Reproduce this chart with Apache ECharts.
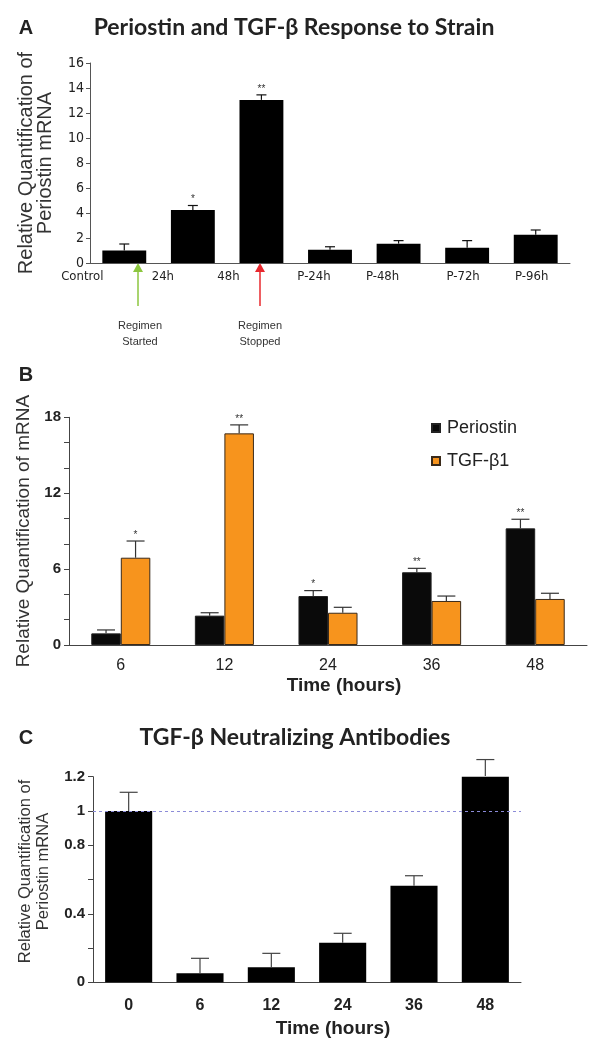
<!DOCTYPE html>
<html><head><meta charset="utf-8">
<script src="https://cdn.jsdelivr.net/npm/echarts@6/dist/echarts.min.js"></script>
<style>html,body{margin:0;padding:0;background:#fff}#c{width:600px;height:1053px}</style>
</head><body><div id="c"></div>
<script>
// ---------- Panel A data ----------
const catA = ['Control', '24h', '48h', 'P-24h', 'P-48h', 'P-72h', 'P-96h'];
const valA = [1.0, 4.25, 13.05, 1.07, 1.55, 1.23, 2.27];
const errA = [1.52, 4.6, 13.45, 1.3, 1.79, 1.79, 2.64];
const starA = ['', '*', '**', '', '', '', ''];

// ---------- Panel B data ----------
const catB = ['6', '12', '24', '36', '48'];
const periostinB = [0.92, 2.32, 3.87, 5.75, 9.22];
const periostinErrB = [1.19, 2.55, 4.3, 6.06, 9.94];
const periostinStarB = ['', '', '*', '**', '**'];
const tgfB = [6.9, 16.73, 2.55, 3.48, 3.64];
const tgfErrB = [8.22, 17.4, 2.98, 3.87, 4.09];
const tgfStarB = ['*', '**', '', '', ''];
const yLabelsB = [0, 6, 12, 18];

// ---------- Panel C data ----------
const catC = ['0', '6', '12', '24', '36', '48'];
const valC = [1.0, 0.053, 0.088, 0.231, 0.564, 1.204];
const errC = [1.109, 0.14, 0.169, 0.286, 0.622, 1.30];
const yLabelsC = ['0', '0.4', '0.8', '1', '1.2'];
const refLineC = 1;

const AR = 'Liberation Sans, Arial, sans-serif';
const NAR = 'Liberation Sans Narrow, Arial Narrow, DejaVu Sans Condensed, sans-serif';

function errSeries(xi, yi, vals, errs, stars, offsetFrac, capW, color) {
  return {
    type: 'custom', xAxisIndex: xi, yAxisIndex: yi, z: 5, silent: true,
    data: vals.map((v, i) => [i, v, errs[i]]),
    renderItem(params, api) {
      const i = api.value(0);
      const band = api.size([1, 0])[0];
      const base = api.coord([i, api.value(1)]);
      const top = api.coord([i, api.value(2)]);
      const x = base[0] + offsetFrac * band;
      const st = stars[params.dataIndex];
      const children = [
        {type: 'line', shape: {x1: x, y1: base[1], x2: x, y2: top[1]}, style: {stroke: color, lineWidth: 1.2}},
        {type: 'line', shape: {x1: x - capW / 2, y1: top[1], x2: x + capW / 2, y2: top[1]}, style: {stroke: color, lineWidth: 1.2}}
      ];
      if (st) children.push({type: 'text', style: {text: st, x: x, y: top[1] - 1, align: 'center', verticalAlign: 'bottom', font: '10px Liberation Sans', fill: '#333'}});
      return {type: 'group', children};
    }
  };
}

const shiftA = [84, 60, 66, 32, 32, 8, 8];
const richA = {};
shiftA.forEach((p, i) => { richA['s' + i] = {padding: [0, p, 0, 0], fontFamily: NAR, fontSize: 13, color: '#222'}; });

function arrow(x, color) {
  return {type: 'group', children: [
    {type: 'line', shape: {x1: x, y1: 306, x2: x, y2: 270}, style: {stroke: color, lineWidth: 1.5}},
    {type: 'polygon', shape: {points: [[x - 5, 272], [x + 5, 272], [x, 263]]}, style: {fill: color}}
  ]};
}

const chart = echarts.init(document.getElementById('c'));
chart.setOption({
  animation: false,
  backgroundColor: '#fff',
  grid: [
    {left: 90, right: 30, top: 63, height: 200},
    {left: 69, right: 13, top: 417.3, height: 227.7},
    {left: 93, right: 79, top: 776.7, height: 205.6}
  ],
  legend: {
    data: ['Periostin', 'TGF-β1'], orient: 'vertical', left: 426, top: 414,
    itemWidth: 8, itemHeight: 8, itemGap: 15, icon: 'rect',
    textStyle: {fontSize: 18, fontFamily: AR, color: '#222', padding: [0, 0, 0, 2]}
  },
  xAxis: [
    {gridIndex: 0, type: 'category', data: catA,
      axisLine: {lineStyle: {color: '#555', width: 1}}, axisTick: {show: false},
      axisLabel: {margin: 7, interval: 0, formatter: (v, i) => '{s' + i + '|' + v + '}', rich: richA}},
    {gridIndex: 1, type: 'category', data: catB,
      axisLine: {lineStyle: {color: '#444', width: 1}}, axisTick: {length: 5, lineStyle: {color: '#444'}},
      axisLabel: {margin: 13, fontSize: 16, fontFamily: AR, color: '#222'},
      name: 'Time (hours)', nameLocation: 'middle', nameGap: 31,
      nameTextStyle: {fontSize: 19, fontWeight: 'bold', fontFamily: AR, color: '#222', padding: [0, 0, 0, 32]}},
    {gridIndex: 2, type: 'category', data: catC,
      axisLine: {lineStyle: {color: '#444', width: 1}}, axisTick: {length: 5, lineStyle: {color: '#444'}},
      axisLabel: {margin: 15, fontSize: 16, fontWeight: 'bold', fontFamily: AR, color: '#222'},
      name: 'Time (hours)', nameLocation: 'middle', nameGap: 37,
      nameTextStyle: {fontSize: 19, fontWeight: 'bold', fontFamily: AR, color: '#222', padding: [0, 0, 0, 52]}}
  ],
  yAxis: [
    {gridIndex: 0, type: 'value', min: 0, max: 16, interval: 2,
      axisLine: {show: true, lineStyle: {color: '#555'}}, axisTick: {show: true, length: 4, lineStyle: {color: '#555'}},
      splitLine: {show: false},
      axisLabel: {margin: 6, fontSize: 14, fontFamily: NAR, color: '#222'},
      name: 'Relative Quantification of\nPeriostin mRNA', nameLocation: 'middle', nameGap: 35,
      nameTextStyle: {fontSize: 20, lineHeight: 19, fontFamily: AR, color: '#333'}},
    {gridIndex: 1, type: 'value', min: 0, max: 18, interval: 2,
      axisLine: {show: true, lineStyle: {color: '#444'}}, axisTick: {show: true, length: 5, lineStyle: {color: '#444'}},
      splitLine: {show: false},
      axisLabel: {margin: 8, fontSize: 15, fontWeight: 'bold', fontFamily: AR, color: '#222',
        formatter: v => yLabelsB.includes(Math.round(v)) && Math.abs(v - Math.round(v)) < 1e-6 ? String(Math.round(v)) : ''},
      name: 'Relative Quantification of mRNA', nameLocation: 'middle', nameGap: 32,
      nameTextStyle: {fontSize: 19, fontFamily: AR, color: '#333'}},
    {gridIndex: 2, type: 'value', min: 0, max: 1.2, interval: 0.2,
      axisLine: {show: true, lineStyle: {color: '#444'}}, axisTick: {show: true, length: 5, lineStyle: {color: '#444'}},
      splitLine: {show: false},
      axisLabel: {margin: 8, fontSize: 15, fontWeight: 'bold', fontFamily: AR, color: '#222',
        formatter: v => { const s = String(Math.round(v * 10) / 10); return yLabelsC.includes(s) ? s : ''; }},
      name: 'Relative Quantification of\nPeriostin mRNA', nameLocation: 'middle', nameGap: 41,
      nameTextStyle: {fontSize: 16.5, lineHeight: 18, fontFamily: AR, color: '#333', padding: [0, 0, 0, 16]}}
  ],
  series: [
    {type: 'bar', name: 'Periostin A', xAxisIndex: 0, yAxisIndex: 0, data: valA,
      barCategoryGap: '36%', itemStyle: {color: '#000'}},
    errSeries(0, 0, valA, errA, starA, 0, 10, '#111'),
    {type: 'bar', name: 'Periostin', xAxisIndex: 1, yAxisIndex: 1, data: periostinB,
      barGap: '0%', barCategoryGap: '43%', itemStyle: {color: '#0a0a0a', borderColor: '#222', borderWidth: 1}},
    {type: 'bar', name: 'TGF-β1', xAxisIndex: 1, yAxisIndex: 1, data: tgfB,
      barGap: '0%', barCategoryGap: '43%', itemStyle: {color: '#F7941D', borderColor: '#3a2a1a', borderWidth: 1}},
    errSeries(1, 1, periostinB, periostinErrB, periostinStarB, -0.1425, 18, '#333'),
    errSeries(1, 1, tgfB, tgfErrB, tgfStarB, 0.1425, 18, '#333'),
    {type: 'bar', name: 'Periostin C', xAxisIndex: 2, yAxisIndex: 2, data: valC,
      barCategoryGap: '34%', itemStyle: {color: '#000'},
      markLine: {silent: true, symbol: ['none', 'none'], label: {show: false},
        lineStyle: {type: [3, 3], color: '#8c8cd8', width: 1}, data: [{yAxis: refLineC}]}},
    errSeries(2, 2, valC, errC, catC.map(() => ''), 0, 18, '#444')
  ],
  graphic: [
    {type: 'text', x: 26, y: 28, style: {text: 'A', font: 'bold 20px Liberation Sans', fill: '#222', align: 'center', verticalAlign: 'middle'}},
    {type: 'text', x: 294, y: 28, style: {text: 'Periostin and TGF-β Response to Strain', font: 'bold 23px Lato', fill: '#222', align: 'center', verticalAlign: 'middle'}},
    arrow(138, '#8cc63f'),
    arrow(260, '#e8282e'),
    {type: 'text', x: 140, y: 318, style: {text: 'Regimen\nStarted', font: '11px Liberation Sans', lineHeight: 16, fill: '#333', align: 'center', verticalAlign: 'top'}},
    {type: 'text', x: 260, y: 318, style: {text: 'Regimen\nStopped', font: '11px Liberation Sans', lineHeight: 16, fill: '#333', align: 'center', verticalAlign: 'top'}},
    {type: 'text', x: 26, y: 375, style: {text: 'B', font: 'bold 20px Liberation Sans', fill: '#222', align: 'center', verticalAlign: 'middle'}},
    {type: 'text', x: 26, y: 738, style: {text: 'C', font: 'bold 20px Liberation Sans', fill: '#222', align: 'center', verticalAlign: 'middle'}},
    {type: 'text', x: 295, y: 738, style: {text: 'TGF-β Neutralizing Antibodies', font: 'bold 23px Lato', fill: '#222', align: 'center', verticalAlign: 'middle'}}
  ]
});
</script></body></html>
